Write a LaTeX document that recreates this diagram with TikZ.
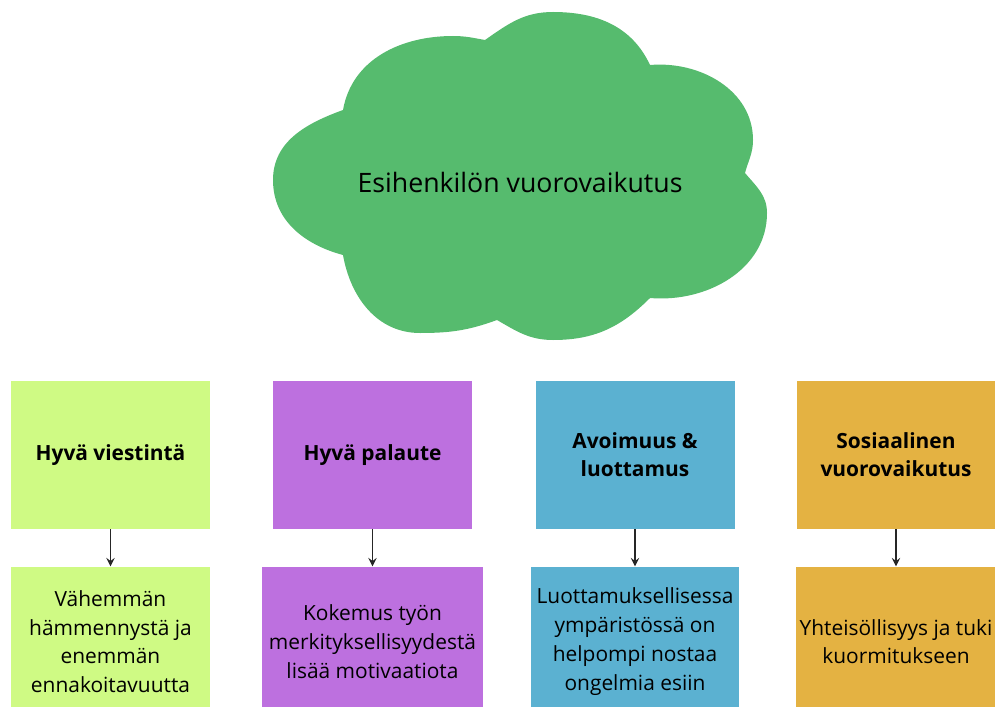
\documentclass[tikz,border=0pt]{standalone}
\usepackage{fontspec}
\setmainfont{Open Sans}
\usetikzlibrary{
    arrows,
    positioning
}
\definecolor{cloudgreen}{RGB}{86,187,110}
\definecolor{limegreen}{RGB}{207,250,132}
\definecolor{lilac}{RGB}{189,112,223}
\definecolor{skyblue}{RGB}{91,177,209}
\definecolor{gold}{RGB}{228,178,66}
\tikzset{
    topic/.style={minimum width=3.98cm, minimum height=2.96cm, inner sep=2pt, align=center,
        font=\fontsize{11.9}{16}\selectfont\bfseries},
    effect/.style={minimum height=3cm, inner sep=2pt, align=center,
        font=\fontsize{11.9}{16.4}\selectfont},
    leadsto/.style={draw=black!85, line width=1.1pt, -stealth}
}

\begin{document}
\begin{tikzpicture}
                            \useasboundingbox (0, 0) rectangle (19.9, -14.12);
                            % pilvi
                            \fill[cloudgreen]
                            (6.86, -2.2) to[out=80, in=180] (9.06, -0.72) to[out=0, in=170] (9.7, -0.8)
                            to[out=35, in=180] (11.06, -0.24) to[out=0, in=115] (13.0, -1.3)
                            to[out=5, in=90] (15.06, -2.8) to[out=-90, in=75] (14.9, -3.46)
                            to[out=-50, in=90] (15.34, -4.26) to[out=-90, in=-5] (13.0, -5.96)
                            to[out=-135, in=0] (11.06, -6.8) to[out=180, in=-30] (9.94, -6.4)
                            to[out=-160, in=0] (8.4, -6.66) to[out=180, in=-80] (6.86, -5.1)
                            to[out=165, in=-90] (5.46, -3.6) to[out=90, in=200] cycle;
                            \node (esihenkilo) at (10.4, -3.64) {\fontsize{15.2}{19}\selectfont Esihenkilön vuorovaikutus};
                            % aiheet
                            \node[topic, fill=limegreen] (viestinta) at (2.21, -9.1) {Hyvä viestintä};
                            \node[topic, fill=lilac] (palaute) at (7.45, -9.1) {Hyvä palaute};
                            \node[topic, fill=skyblue] (avoimuus) at (12.7, -9.1) {Avoimuus \&\\luottamus};
                            \node[topic, fill=gold] (sosiaalinen) at (17.92, -9.1) {Sosiaalinen\\vuorovaikutus};
                            % vaikutukset
                            \node[effect, fill=limegreen, minimum width=3.98cm, below=0.74cm of viestinta] (vahemman)
                            {Vähemmän\\hämmennystä ja\\enemmän\\ennakoitavuutta};
                            \node[effect, fill=lilac, minimum width=4.42cm, below=0.74cm of palaute] (kokemus)
                            {Kokemus työn\\merkityksellisyydestä\\lisää motivaatiota};
                            \node[effect, fill=skyblue, minimum width=4.16cm, below=0.74cm of avoimuus] (ymparisto)
                            {Luottamuksellisessa\\ympäristössä on\\helpompi nostaa\\ongelmia esiin};
                            \node[effect, fill=gold, minimum width=3.98cm, below=0.74cm of sosiaalinen] (yhteisollisyys)
                            {Yhteisöllisyys ja tuki\\kuormitukseen};
                            \draw[leadsto] (viestinta) -- (vahemman);
                            \draw[leadsto] (palaute) -- (kokemus);
                            \draw[leadsto] (avoimuus) -- (ymparisto);
                            \draw[leadsto] (sosiaalinen) -- (yhteisollisyys);
                        \end{tikzpicture}
\end{document}
